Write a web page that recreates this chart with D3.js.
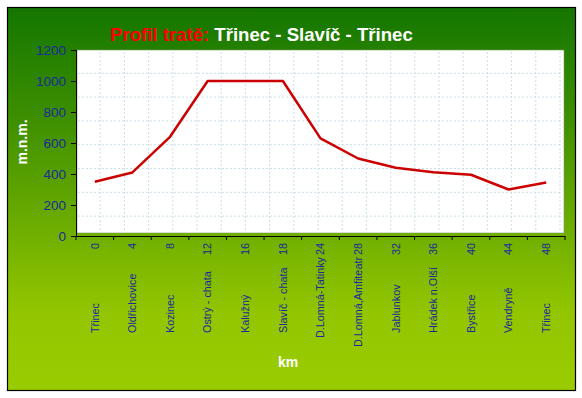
<!DOCTYPE html>
<html><head><meta charset="utf-8">
<script src="https://cdn.jsdelivr.net/npm/d3@7"></script>
<style>html,body{margin:0;padding:0;background:#fff;}svg{display:block;}</style>
</head><body>
<svg id="c" width="582" height="398"></svg>
<script>
const places = ["Třinec","Oldřichovice","Kozinec","Ostrý - chata","Kalužný","Slavíč - chata","D.Lomná-Tatinky","D.Lomná,Amfiteatr","Jablunkov","Hrádek n.Olší","Bystřice","Vendryně","Třinec"];
const kms = ["0","4","8","12","16","18","24","28","32","36","40","44","48"];
const elevations = [350, 410, 640, 1000, 1000, 1000, 630, 500, 440, 412, 395, 300, 345];
const yTicks = [0, 200, 400, 600, 800, 1000, 1200];

const svg = d3.select("#c");
const font = "Arial, 'Liberation Sans', sans-serif";
const L = 76, R = 565, T = 50, B = 236;

const defs = svg.append("defs");
const g = defs.append("linearGradient").attr("id","bg").attr("x1",0).attr("y1",0).attr("x2",0).attr("y2",1);
g.append("stop").attr("offset","0%").attr("stop-color","#137600");
g.append("stop").attr("offset","30%").attr("stop-color","#3f9000");
g.append("stop").attr("offset","80%").attr("stop-color","#93c600");
g.append("stop").attr("offset","100%").attr("stop-color","#99cc00");

svg.append("rect").attr("x",7.5).attr("y",7.5).attr("width",568).attr("height",383)
  .attr("fill","url(#bg)").attr("stroke","#000").attr("stroke-width",1.2);

const x = d3.scaleBand().domain(d3.range(places.length)).range([L, R]);
const y = d3.scaleLinear().domain([0, 1200]).range([B, T]);

// plot area
svg.append("rect").attr("x",L+1).attr("y",T).attr("width",R-L-2).attr("height",B-T-3)
  .attr("fill","#fff").attr("stroke","#7a9a5a").attr("stroke-width",0.6);

// decorative grid texture
const grid = svg.append("g").attr("stroke","#c9dfe6").attr("stroke-width",1).attr("stroke-dasharray","2,2");
d3.range(1,21).forEach(k=>{ const xx = 76 + 24.2*k; if (xx < R-2) grid.append("line").attr("x1",xx).attr("x2",xx).attr("y1",T+2).attr("y2",B-4); });
d3.range(1,8).forEach(k=>{ const yy = 49.5 + 23.8*k; if (yy < B-3) grid.append("line").attr("x1",L+2).attr("x2",R-3).attr("y1",yy).attr("y2",yy); });

// y axis
const ya = svg.append("g").attr("transform",`translate(${L},0)`)
  .call(d3.axisLeft(y).tickValues(yTicks).tickFormat(d3.format("d")).tickSize(5).tickPadding(5));
ya.select(".domain").attr("stroke","#000");
ya.selectAll(".tick line").attr("stroke","#000");
ya.selectAll("text").attr("fill","#1a2a9a").attr("font-family",font).attr("font-size",13.5);

// x axis
const xa = svg.append("g").attr("transform",`translate(0,${B})`)
  .call(d3.axisBottom(x).tickSize(0).tickFormat(""));
xa.select(".domain").attr("stroke","#000");
svg.append("g").selectAll("line").data(d3.range(places.length+1)).join("line")
  .attr("x1",i=>L + i*x.step()).attr("x2",i=>L + i*x.step())
  .attr("y1",B).attr("y2",B+4).attr("stroke","#000");

// x labels: name (bottom) and km (top), rotated
const lab = svg.append("g").attr("font-family",font).attr("font-size",10.8).attr("fill","#1a2a9a");
places.forEach((p,i)=>{
  const cx = x(i) + x.bandwidth()/2;
  const k = lab.append("text").attr("transform",`translate(${cx},243) rotate(-90)`).attr("dy","0.35em")
    .attr("text-anchor","end").text(kms[i]);
  const kl = k.node().getComputedTextLength();
  const n = lab.append("text").attr("dy","0.35em").attr("text-anchor","start").text(p);
  const nl = n.node().getComputedTextLength();
  const start = Math.max(333, 243 + kl + 2 + nl);
  n.attr("transform",`translate(${cx},${start}) rotate(-90)`);
});

// line
const line = d3.line().x((d,i)=>x(i)+x.bandwidth()/2).y(d=>y(d));
svg.append("path").datum(elevations).attr("d",line).attr("fill","none")
  .attr("stroke","#cc0000").attr("stroke-width",2.5).attr("stroke-linejoin","round");

// titles
const t = svg.append("text").attr("x",110).attr("y",41).attr("font-family",font)
  .attr("font-size",18.6).attr("font-weight","bold");
t.append("tspan").attr("fill","#ff0000").text("Profil tratě: ");
t.append("tspan").attr("fill","#fff").text("Třinec - Slavíč - Třinec");

svg.append("text").attr("transform","translate(22,142) rotate(-90)").attr("dy","0.35em")
  .attr("text-anchor","middle").attr("fill","#fff").attr("font-family",font)
  .attr("font-size",14).attr("font-weight","bold").text("m.n.m.");

svg.append("text").attr("x",288).attr("y",367).attr("text-anchor","middle").attr("fill","#fff")
  .attr("font-family",font).attr("font-size",14).attr("font-weight","bold").text("km");
</script>
</body></html>
